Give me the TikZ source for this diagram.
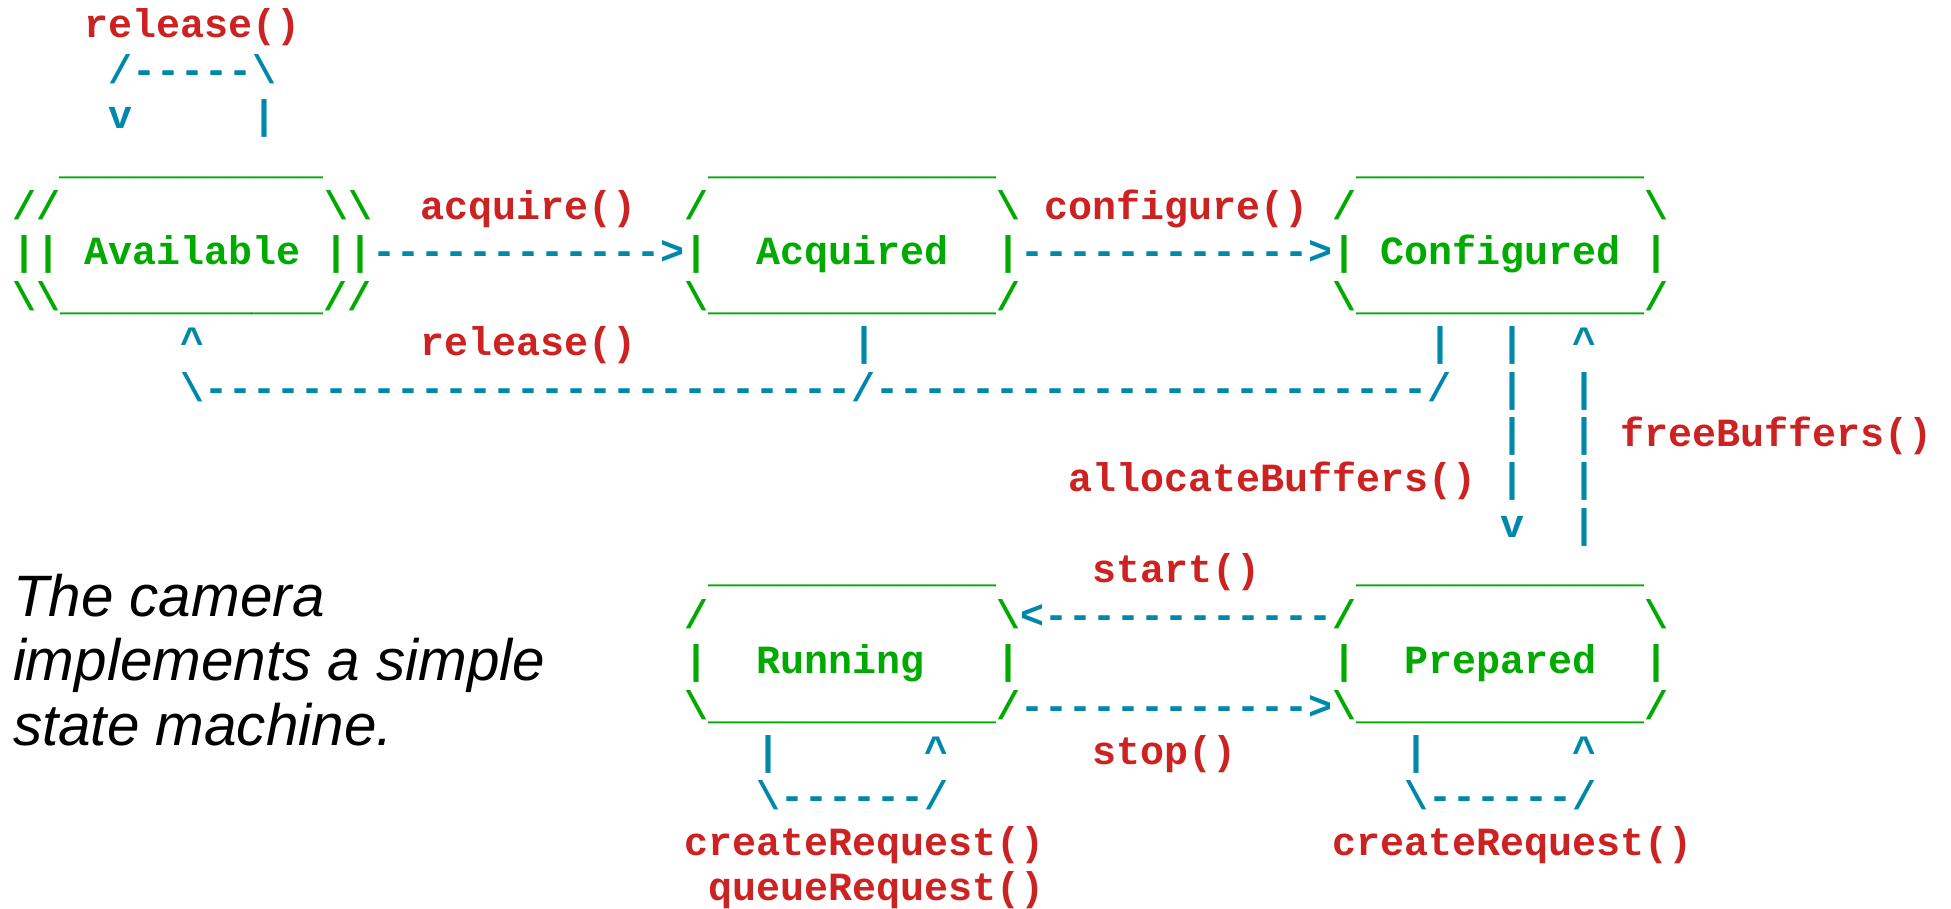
\documentclass[tikz,border=0pt]{standalone}
\usepackage{fontspec}
\setmainfont{Liberation Sans}
\setmonofont{Liberation Mono}
\usepackage{xcolor}
\usepackage{tikz}
\definecolor{callred}{RGB}{204,34,34}
\definecolor{flowblue}{RGB}{0,136,170}
\definecolor{stategreen}{RGB}{0,170,0}
\newcommand{\bsl}{\textbackslash}
\newcommand{\crt}{\textasciicircum}

\begin{document}
\begin{tikzpicture}[
    x=12pt, y=-22.7pt,
    txt/.style={anchor=base west, inner sep=0pt, outer sep=0pt, font=\ttfamily\bfseries\fontsize{20pt}{22.7pt}\selectfont},
    call/.style={txt, text=callred},
    flow/.style={txt, text=flowblue},
    state/.style={txt, text=stategreen},
    note/.style={anchor=base west, inner sep=0pt, outer sep=0pt, font=\itshape\fontsize{29.2pt}{32.15pt}\selectfont}
]
    \useasboundingbox (0pt,0pt) rectangle (975.5pt,-454.5pt);
    \begin{scope}[shift={(6pt,-19pt)}]
    % States
    \node[state] (availTop) at (2,3) {\_\_\_\_\_\_\_\_\_\_\_};
    \node[state] (availNW) at (0,4) {//};
    \node[state] (availNE) at (13,4) {\bsl\bsl};
    \node[state] (availW) at (0,5) {||};
    \node[state] (avail) at (3,5) {Available};
    \node[state] (availE) at (13,5) {||};
    \node[state] (availBot) at (0,6) {\bsl\bsl\_\_\_\_\_\_\_\_\_\_\_//};

    \node[state] (acqTop) at (29,3) {\_\_\_\_\_\_\_\_\_\_\_\_};
    \node[state] (acqNW) at (28,4) {/};
    \node[state] (acqNE) at (41,4) {\bsl};
    \node[state] (acqW) at (28,5) {|};
    \node[state] (acq) at (31,5) {Acquired};
    \node[state] (acqE) at (41,5) {|};
    \node[state] (acqBot) at (28,6) {\bsl\_\_\_\_\_\_\_\_\_\_\_\_/};

    \node[state] (cfgTop) at (56,3) {\_\_\_\_\_\_\_\_\_\_\_\_};
    \node[state] (cfgNW) at (55,4) {/};
    \node[state] (cfgNE) at (68,4) {\bsl};
    \node[state] (cfgW) at (55,5) {|};
    \node[state] (cfg) at (57,5) {Configured};
    \node[state] (cfgE) at (68,5) {|};
    \node[state] (cfgBot) at (55,6) {\bsl\_\_\_\_\_\_\_\_\_\_\_\_/};

    \node[state] (runTop) at (29,12) {\_\_\_\_\_\_\_\_\_\_\_\_};
    \node[state] (runNW) at (28,13) {/};
    \node[state] (runNE) at (41,13) {\bsl};
    \node[state] (runW) at (28,14) {|};
    \node[state] (run) at (31,14) {Running};
    \node[state] (runE) at (41,14) {|};
    \node[state] (runBot) at (28,15) {\bsl\_\_\_\_\_\_\_\_\_\_\_\_/};

    \node[state] (prepTop) at (56,12) {\_\_\_\_\_\_\_\_\_\_\_\_};
    \node[state] (prepNW) at (55,13) {/};
    \node[state] (prepNE) at (68,13) {\bsl};
    \node[state] (prepW) at (55,14) {|};
    \node[state] (prep) at (58,14) {Prepared};
    \node[state] (prepE) at (68,14) {|};
    \node[state] (prepBot) at (55,15) {\bsl\_\_\_\_\_\_\_\_\_\_\_\_/};

    % Arrows
    \node[flow] (selfLoop) at (4,1) {/-----\bsl};
    \node[flow] (selfHead) at (4,2) {v};
    \node[flow] (selfTail) at (10,2) {|};
    \node[flow] (acqArrow) at (15,5) {------------>};
    \node[flow] (cfgArrow) at (42,5) {------------>};
    \node[flow] (relHead) at (7,7) {\crt};
    \node[flow] (relAcq) at (35,7) {|};
    \node[flow] (relCfg) at (59,7) {|};
    \node[flow] (relLine) at (7,8) {\bsl---------------------------/-----------------------/};
    \node[flow] (allocA) at (62,7) {|};
    \node[flow] (allocB) at (62,8) {|};
    \node[flow] (allocC) at (62,9) {|};
    \node[flow] (allocD) at (62,10) {|};
    \node[flow] (allocHead) at (62,11) {v};
    \node[flow] (freeHead) at (65,7) {\crt};
    \node[flow] (freeA) at (65,8) {|};
    \node[flow] (freeB) at (65,9) {|};
    \node[flow] (freeC) at (65,10) {|};
    \node[flow] (freeD) at (65,11) {|};
    \node[flow] (startArrow) at (42,13) {<------------};
    \node[flow] (stopArrow) at (42,15) {------------>};
    \node[flow] (runLoopA) at (31,16) {|};
    \node[flow] (runLoopB) at (38,16) {\crt};
    \node[flow] (runLoop) at (31,17) {\bsl------/};
    \node[flow] (prepLoopA) at (58,16) {|};
    \node[flow] (prepLoopB) at (65,16) {\crt};
    \node[flow] (prepLoop) at (58,17) {\bsl------/};

    % Labels
    \node[call] (relSelfLbl) at (3,0) {release()};
    \node[call] (acquireLbl) at (17,4) {acquire()};
    \node[call] (configureLbl) at (43,4) {configure()};
    \node[call] (releaseLbl) at (17,7) {release()};
    \node[call] (freeLbl) at (67,9) {freeBuffers()};
    \node[call] (allocLbl) at (44,10) {allocateBuffers()};
    \node[call] (startLbl) at (45,12) {start()};
    \node[call] (stopLbl) at (45,16) {stop()};
    \node[call] (createRunLbl) at (28,18) {createRequest()};
    \node[call] (queueRunLbl) at (29,19) {queueRequest()};
    \node[call] (createPrepLbl) at (55,18) {createRequest()};
    \end{scope}

    % Note
    \node[note] (note1) at (6.5pt,-308.3pt) {The camera};
    \node[note] (note2) at (6.5pt,-340pt) {implements a simple};
    \node[note] (note3) at (6.5pt,-372.5pt) {state machine.};
\end{tikzpicture}
\end{document}
